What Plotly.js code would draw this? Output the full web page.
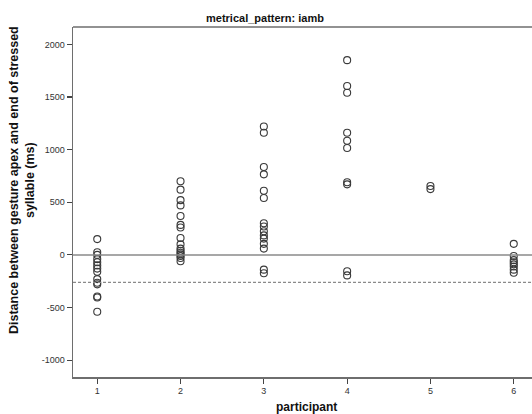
<!DOCTYPE html>
<html>
<head>
<meta charset="utf-8">
<script src="https://cdn.plot.ly/plotly-3.0.1.min.js"></script>
<style>html,body{margin:0;padding:0;background:#fff;overflow:hidden}#chart{width:532px;height:414px}</style>
</head>
<body>
<div id="chart"></div>
<script>
// Data
const participants = [1, 2, 3, 4, 5, 6];
const p1 = [150, 25, 0, -40, -70, -100, -130, -160, -230, -265, -280, -395, -405, -540];
const p2 = [700, 620, 520, 470, 370, 285, 260, 160, 100, 60, 40, 20, 5, -10, -30, -60];
const p3 = [1220, 1160, 835, 765, 610, 540, 300, 270, 225, 185, 155, 105, 60, -140, -175];
const p4 = [1850, 1605, 1540, 1160, 1085, 1015, 690, 670, -155, -195];
const p5 = [655, 625];
const p6 = [105, -10, -50, -70, -90, -110, -140, -170];
const referenceLines = [0, -261];
const yTickVals = [-1000, -500, 0, 500, 1000, 1500, 2000];
const yTickText = ["-1000", "-500", "0", "500", "1000", "1500", "2000"];
const xTickText = ["1", "2", "3", "4", "5", "6"];

const groups = [p1, p2, p3, p4, p5, p6];
const xs = [], ys = [];
groups.forEach((g, i) => g.forEach(v => { xs.push(participants[i]); ys.push(v); }));

const axisColor = '#6e6e6e';
const font = 'Arial, "Liberation Sans", sans-serif';

const trace = {
  x: xs, y: ys, type: 'scatter', mode: 'markers',
  marker: {symbol: 'circle-open', size: 7, color: '#3a3a3a', line: {width: 1.1, color: '#3a3a3a'}},
  hoverinfo: 'x+y', showlegend: false
};

const shapes = [
  {type: 'line', xref: 'paper', yref: 'y', x0: 0, x1: 1, y0: referenceLines[0], y1: referenceLines[0],
   line: {color: '#8a8a8a', width: 1.5}},
  {type: 'line', xref: 'paper', yref: 'y', x0: 0, x1: 1, y0: referenceLines[1], y1: referenceLines[1],
   line: {color: '#8a8a8a', width: 1.2, dash: '3px,2px'}},
  {type: 'line', xref: 'paper', yref: 'paper', x0: 0, x1: 1, y0: 1, y1: 1,
   line: {color: axisColor, width: 1.5}}
];

const layout = {
  width: 532, height: 414,
  margin: {l: 73, r: 0, t: 27, b: 37, pad: 0},
  paper_bgcolor: '#fff', plot_bgcolor: '#fff',
  font: {family: font, size: 9, color: '#333'},
  xaxis: {
    range: [0.709, 6.219], tickvals: participants, ticktext: xTickText,
    showgrid: false, zeroline: false, showline: true, linecolor: axisColor, linewidth: 1.5,
    ticks: 'outside', ticklen: 5, tickwidth: 1.2, tickcolor: '#444',
    tickfont: {family: font, size: 9, color: '#333'}, fixedrange: true
  },
  yaxis: {
    range: [-1160, 2165], tickvals: yTickVals, ticktext: yTickText,
    showgrid: false, zeroline: false, showline: true, linecolor: axisColor, linewidth: 1.5,
    ticks: 'outside', ticklen: 5, tickwidth: 1.2, tickcolor: '#444',
    tickfont: {family: font, size: 9, color: '#333'}, fixedrange: true
  },
  shapes: shapes,
  annotations: [
    {text: '<b>metrical_pattern: iamb</b>', xref: 'paper', yref: 'paper',
     x: (265 - 73) / 459, y: 1, yshift: 9, xanchor: 'center', yanchor: 'middle', showarrow: false,
     font: {family: font, size: 11, color: '#111'}},
    {text: '<b>participant</b>', xref: 'paper', yref: 'paper',
     x: (306 - 73) / 459, y: 0, yshift: -30, xanchor: 'center', yanchor: 'middle', showarrow: false,
     font: {family: font, size: 12, color: '#111'}},
    {text: '<b>Distance between gesture apex and end of stressed<br>syllable (ms)</b>', xref: 'paper', yref: 'paper',
     x: (22 - 73) / 459, y: 0.5, yshift: 22, xanchor: 'center', yanchor: 'middle', textangle: -90, showarrow: false,
     font: {family: font, size: 12.5, color: '#111'}}
  ]
};

Plotly.newPlot('chart', [trace], layout, {displayModeBar: false, staticPlot: true});
</script>
</body>
</html>
